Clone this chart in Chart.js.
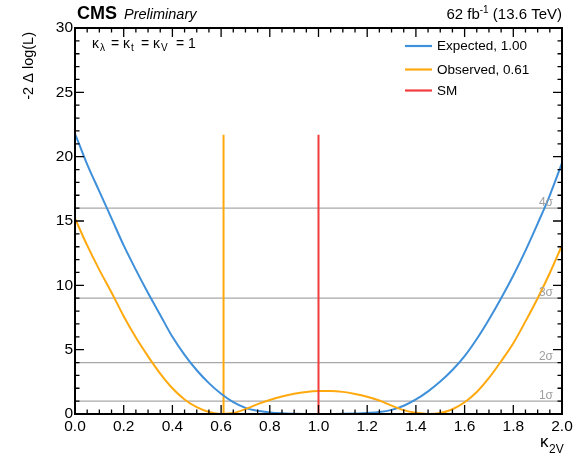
<!DOCTYPE html>
<html>
<head>
<meta charset="utf-8">
<script src="https://cdn.jsdelivr.net/npm/chart.js@4.4.1/dist/chart.umd.min.js"></script>
<style>
  body { margin: 0; background: #fff; }
  canvas { display: block; }
</style>
</head>
<body>
<canvas id="nllScan" width="580" height="464"></canvas>
<script>
// scan points in kappa_2V
var kappa = [0.00, 0.05, 0.10, 0.15, 0.20, 0.25, 0.30, 0.35, 0.40, 0.45,
             0.50, 0.55, 0.60, 0.65, 0.70, 0.75, 0.80, 0.85, 0.90, 0.95,
             1.00, 1.05, 1.10, 1.15, 1.20, 1.25, 1.30, 1.35, 1.40, 1.45,
             1.50, 1.55, 1.60, 1.65, 1.70, 1.75, 1.80, 1.85, 1.90, 1.95, 2.00];

// -2 dlog(L)
var expected = [21.8, 19.4, 17.3, 15.2, 13.1, 11.2, 9.4, 7.7, 6.0, 4.6,
                3.4, 2.4, 1.57, 0.92, 0.48, 0.25, 0.12, 0.05, 0.02, 0.005,
                0.0, 0.005, 0.015, 0.04, 0.08, 0.15, 0.32, 0.64, 1.13, 1.76,
                2.52, 3.42, 4.5, 5.83, 7.35, 9.0, 10.76, 12.7, 14.8, 17.0, 19.5];

var observed = [15.2, 13.1, 11.2, 9.45, 7.6, 5.94, 4.48, 3.14, 2.0, 1.13,
                0.53, 0.16, 0.005, 0.07, 0.38, 0.77, 1.09, 1.36, 1.57, 1.71,
                1.78, 1.79, 1.72, 1.56, 1.34, 1.05, 0.65, 0.3, 0.09, 0.0,
                0.07, 0.37, 0.91, 1.71, 2.8, 4.1, 5.5, 7.2, 9.0, 10.96, 13.1];

var bestExp = 1.00;
var bestObs = 0.61;
var smValue = 1.0;
var markerTop = 21.7;

var sigmaLevels = [1, 4, 9, 16];
var sigmaLabels = ['1σ', '2σ', '3σ', '4σ'];

var FONT = '"Liberation Sans", Arial, Helvetica, sans-serif';
var BLUE = '#3f90da';
var ORANGE = '#ffa90e';
var RED = '#f23c3c';

function toPoints(xs, ys) {
    return xs.map(function (x, i) { return { x: x, y: ys[i] }; });
}

var datasets = [
    { label: 'Expected', data: toPoints(kappa, expected), borderColor: BLUE, borderWidth: 2, order: 2 },
    { label: 'Observed', data: toPoints(kappa, observed), borderColor: ORANGE, borderWidth: 2, order: 1 },
    { label: 'bestObs', data: [{ x: bestObs, y: 0 }, { x: bestObs, y: markerTop }], borderColor: ORANGE, borderWidth: 2, order: 3 },
    { label: 'SM', data: [{ x: smValue, y: 0 }, { x: smValue, y: markerTop }], borderColor: RED, borderWidth: 2, order: 0 }
];
sigmaLevels.forEach(function (lvl) {
    datasets.push({ label: 'sigma' + lvl, data: [{ x: 0, y: lvl }, { x: 2, y: lvl }],
                    borderColor: '#a8a8a8', borderWidth: 1.2, order: 10 });
});
datasets.forEach(function (d) {
    d.showLine = true;
    d.pointRadius = 0;
    d.fill = false;
    d.cubicInterpolationMode = 'monotone';
});

// draws frame, inward ticks and all the text ROOT-style
var decorPlugin = {
    id: 'decor',
    afterDraw: function (chart) {
        var ctx = chart.ctx;
        var a = chart.chartArea;
        var xs = chart.scales.x, ys = chart.scales.y;
        ctx.save();

        // sigma labels
        ctx.fillStyle = '#a0a0a0';
        ctx.font = '12px ' + FONT;
        ctx.textAlign = 'right';
        ctx.textBaseline = 'alphabetic';
        sigmaLevels.forEach(function (lvl, i) {
            ctx.fillText(sigmaLabels[i], a.right - 9, ys.getPixelForValue(lvl) - 2.5);
        });

        // frame
        ctx.strokeStyle = '#000';
        ctx.lineWidth = 2;
        ctx.strokeRect(a.left, a.top, a.right - a.left, a.bottom - a.top);

        // ticks
        ctx.lineWidth = 1.3;
        ctx.beginPath();
        for (var i = 0; i <= 40; i++) {
            var px = xs.getPixelForValue(i * 0.05);
            var len = (i % 4 === 0) ? 9 : 4.5;
            ctx.moveTo(px, a.bottom); ctx.lineTo(px, a.bottom - len);
            ctx.moveTo(px, a.top); ctx.lineTo(px, a.top + len);
        }
        for (var j = 0; j <= 30; j++) {
            var py = ys.getPixelForValue(j);
            var l2 = (j % 5 === 0) ? 9 : 4.5;
            ctx.moveTo(a.left, py); ctx.lineTo(a.left + l2, py);
            ctx.moveTo(a.right, py); ctx.lineTo(a.right - l2, py);
        }
        ctx.stroke();

        ctx.fillStyle = '#000';
        ctx.textAlign = 'left';

        // header
        ctx.font = 'bold 18px ' + FONT;
        ctx.fillText('CMS', 77, 19);
        ctx.font = 'italic 14.5px ' + FONT;
        ctx.fillText('Preliminary', 124, 19);

        var lumiParts = [['62 fb', 15, 0], ['-1', 10, -6], [' (13.6 TeV)', 15, 0]];
        var total = 0;
        lumiParts.forEach(function (p) { ctx.font = p[1] + 'px ' + FONT; total += ctx.measureText(p[0]).width; });
        var cx = 562 - total;
        lumiParts.forEach(function (p) {
            ctx.font = p[1] + 'px ' + FONT;
            ctx.fillText(p[0], cx, 19 + p[2]);
            cx += ctx.measureText(p[0]).width;
        });

        // coupling annotation: [text, x, size, baseline shift]
        var ann = [['κ', 92, 14, 0], ['λ', 100, 10, 3], ['=', 111, 14, 0],
                   ['κ', 123, 14, 0], ['t', 131, 10, 3], ['=', 141, 14, 0],
                   ['κ', 153, 14, 0], ['V', 161, 10, 3], ['=', 176, 14, 0], ['1', 188, 14, 0]];
        ann.forEach(function (p) {
            ctx.font = p[2] + 'px ' + FONT;
            ctx.fillText(p[0], p[1], 48 + p[3]);
        });

        // legend
        var legend = [['Expected, ' + bestExp.toFixed(2), BLUE, 46, 50],
                      ['Observed, ' + bestObs.toFixed(2), ORANGE, 69.5, 74],
                      ['SM', RED, 90.5, 95]];
        ctx.font = '13.5px ' + FONT;
        legend.forEach(function (e) {
            ctx.strokeStyle = e[1];
            ctx.lineWidth = 2.2;
            ctx.beginPath();
            ctx.moveTo(405, e[2]); ctx.lineTo(432, e[2]);
            ctx.stroke();
            ctx.fillText(e[0], 437, e[3]);
        });

        // axis titles
        ctx.font = '17px ' + FONT;
        ctx.fillText('κ', 540, 447);
        ctx.font = '12px ' + FONT;
        ctx.fillText('2V', 549, 453);

        ctx.save();
        ctx.translate(33, 32);
        ctx.rotate(-Math.PI / 2);
        ctx.textAlign = 'right';
        ctx.font = '14.5px ' + FONT;
        ctx.fillText('-2 Δ log(L)', 0, 0);
        ctx.restore();

        ctx.restore();
    }
};

var ctxScan = document.getElementById('nllScan').getContext('2d');
var scanChart = new Chart(ctxScan, {
    type: 'scatter',
    data: { datasets: datasets },
    options: {
        responsive: false,
        animation: false,
        layout: { padding: { left: 0, top: 28, right: 18, bottom: 0 } },
        plugins: { legend: { display: false }, tooltip: { enabled: false } },
        scales: {
            x: {
                type: 'linear', min: 0, max: 2,
                grid: { display: false, drawTicks: false },
                border: { display: false },
                ticks: {
                    stepSize: 0.2, padding: 3, color: '#000', maxRotation: 0,
                    font: { family: FONT, size: 15.5 },
                    callback: function (v) { return Number(v).toFixed(1); }
                },
                afterFit: function (s) { s.height = 50; }
            },
            y: {
                min: 0, max: 30,
                grid: { display: false, drawTicks: false },
                border: { display: false },
                ticks: { stepSize: 5, padding: 2, color: '#000', font: { family: FONT, size: 15.5 } },
                afterFit: function (s) { s.width = 75; }
            }
        }
    },
    plugins: [decorPlugin]
});
</script>
</body>
</html>
